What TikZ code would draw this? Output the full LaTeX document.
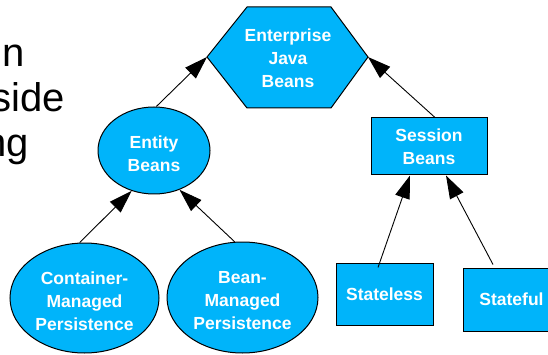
\documentclass[tikz,border=0pt]{standalone}
\usepackage{fontspec}
\setmainfont{Liberation Sans}
\usetikzlibrary{arrows.meta,shapes.geometric,calc}
\definecolor{beanblue}{RGB}{0,180,250}
\begin{document}
\begin{tikzpicture}[x=1pt,y=-1pt,
  shapeline/.style={draw=black,line width=1pt,fill=beanblue},
  nodetext/.style={text=white,font=\fontsize{17.5}{23}\selectfont\bfseries,align=center},
  ellbox/.style={shapeline,ellipse,inner sep=0pt},
  ellcaption/.style={nodetext,yshift=-3pt},
  rectbox/.style={shapeline,nodetext,rectangle,inner sep=0pt},
  link/.style={draw=black,line width=0.9pt,-{Triangle[length=23pt,width=15pt]}},
  sidetext/.style={font=\fontsize{40}{45}\selectfont,anchor=base east,inner sep=0pt}]
\useasboundingbox (0,0) rectangle (548,355);

% fragments of the slide text on the left
\node[sidetext] (t1) at (24.5,67) {n};
\node[sidetext] (t2) at (64.8,112) {side};
\node[sidetext] (t3) at (29.3,157) {ng};

% top: Enterprise Java Beans hexagon
\draw[shapeline] (207,57) coordinate (ejbL) -- (247,7) -- (331,7)
  -- (368,57) coordinate (ejbR) -- (331,108) -- (247,108) -- cycle;
\node[nodetext] (ejb) at (288,58) {Enterprise\\Java\\Beans};

% entity bean branch (captions sit a little below the ellipse centres)
\node[ellbox,minimum width=112pt,minimum height=87pt,
  label={[ellcaption,name=entT]center:{Entity\\Beans}}] (ent) at (154,150.5) {};
\node[ellbox,minimum width=149pt,minimum height=110pt,
  label={[ellcaption,name=cmpT]center:{Container-\\Managed\\Persistence}}] (cmp) at (84.5,298) {};
\node[ellbox,minimum width=151pt,minimum height=111pt,
  label={[ellcaption,name=bmpT]center:{Bean-\\Managed\\Persistence}}] (bmp) at (242.5,297.5) {};

% session bean branch
\node[rectbox,minimum width=116pt,minimum height=57pt] (sb) at (429,146.5) {Session\\Beans};
\node[rectbox,minimum width=97pt,minimum height=62pt] (sl) at (384.5,294) {Stateless};
\node[rectbox,minimum width=97pt,minimum height=63pt] (sf) at (511.5,299.5) {Stateful};

% inheritance arrows
\draw[link] (ent.87) -- (ejbL);
\draw[link] ($(sb.north)+(6,0)$) -- (ejbR);
\draw[link] (cmp.95) -- (ent.241);
\draw[link] (bmp.98) -- (ent.303);
\draw[link] ($(sl.north)+(-6.5,5)$) -- ($(sb.south)+(-19,0)$);
\draw[link] ($(sf.north)+(-18.5,-3)$) -- ($(sb.south)+(17,0)$);
\end{tikzpicture}
\end{document}
